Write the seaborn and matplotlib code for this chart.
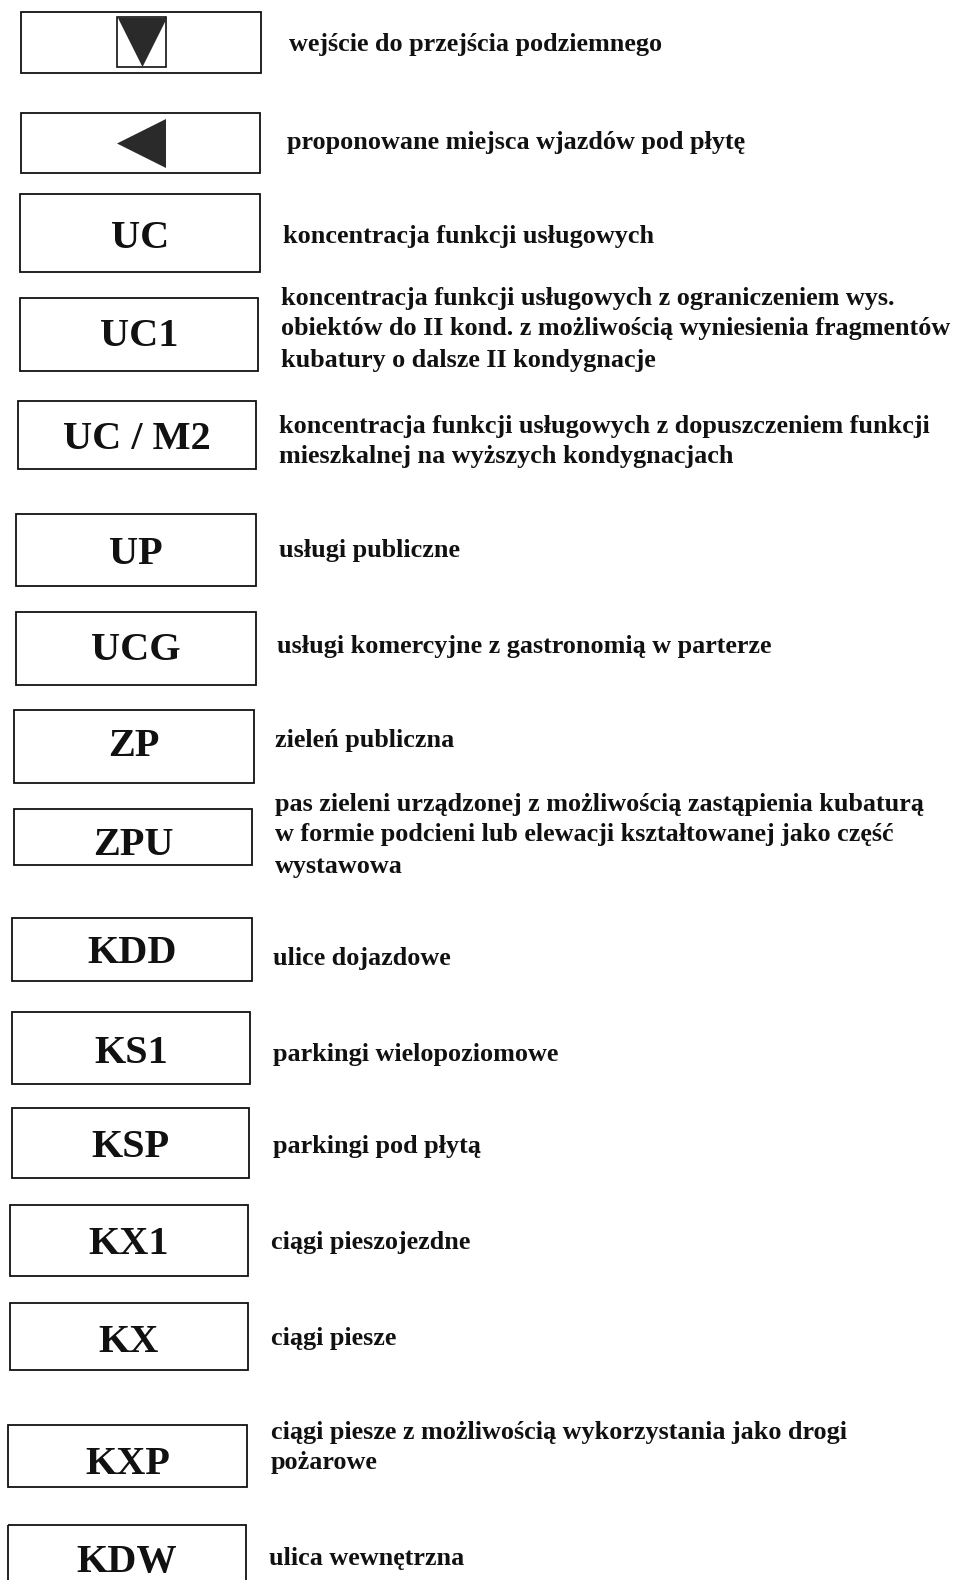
import matplotlib
matplotlib.use("Agg")
import matplotlib.pyplot as plt
import seaborn as sns
from matplotlib.patches import Rectangle

# ---- data ----
codes = ["", "", "UC", "UC1", "UC / M2", "UP", "UCG", "ZP", "ZPU", "KDD",
         "KS1", "KSP", "KX1", "KX", "KXP", "KDW"]
descriptions = [
    ["wejście do przejścia podziemnego"],
    ["proponowane miejsca wjazdów pod płytę"],
    ["koncentracja funkcji usługowych"],
    ["koncentracja funkcji usługowych z ograniczeniem wys.",
     "obiektów do II kond. z możliwością wyniesienia fragmentów",
     "kubatury o dalsze II kondygnacje"],
    ["koncentracja funkcji usługowych z dopuszczeniem funkcji",
     "mieszkalnej na wyższych kondygnacjach"],
    ["usługi publiczne"],
    ["usługi komercyjne z gastronomią w parterze"],
    ["zieleń publiczna"],
    ["pas zieleni urządzonej z możliwością zastąpienia kubaturą",
     "w formie podcieni lub elewacji kształtowanej jako część",
     "wystawowa"],
    ["ulice dojazdowe"],
    ["parkingi wielopoziomowe"],
    ["parkingi pod płytą"],
    ["ciągi pieszojezdne"],
    ["ciągi piesze"],
    ["ciągi piesze z możliwością wykorzystania jako drogi",
     "pożarowe"],
    ["ulica wewnętrzna"],
]
symbols = ["v", "<"]

# ---- layout (pixels) ----
box_left = [21, 21, 20, 20, 18, 16, 16, 14, 14, 12, 12, 12, 10, 10, 8, 8]
box_right = [261, 260, 260, 258, 256, 256, 256, 254, 252, 252, 250, 249, 248, 248, 247, 246]
box_top = [12, 113, 194, 298, 401, 514, 612, 710, 809, 918, 1012, 1108, 1205, 1303, 1425, 1525]
box_bot = [73, 173, 272, 371, 469, 586, 685, 783, 865, 981, 1084, 1178, 1276, 1370, 1487, 1600]
caps_mid = [None, None, 233, 331, 434, 549, 645, 741, 840, 948, 1048, 1142, 1239, 1337, 1459, 1557]
cap_half = 15
text_x = [289, 287, 283, 281, 279, 279, 277, 275, 275, 273, 273, 273, 271, 271, 271, 269]
text_y0 = [44, 142, 236, 298, 426, 550, 646, 740, 804, 958, 1054, 1147, 1242, 1338, 1432, 1558]
line_gap = 31

W, H = 961, 1580
sns.set_theme(style="white")
plt.rcParams['font.family'] = ['Liberation Serif', 'DejaVu Serif']

fig = plt.figure(figsize=(W / 100, H / 100), dpi=100)
ax = fig.add_axes([0, 0, 1, 1])

ink = "#111111"
for i, code in enumerate(codes):
    ax.add_patch(Rectangle((box_left[i], box_top[i]), box_right[i] - box_left[i],
                           box_bot[i] - box_top[i], fill=False, ec=ink, lw=1.3))
    if code:
        ax.text((box_left[i] + box_right[i]) / 2, caps_mid[i] + cap_half, code,
                ha="center", va="baseline", fontsize=29, fontweight="bold",
                color=ink)
    for j, line in enumerate(descriptions[i]):
        ax.text(text_x[i], text_y0[i] + j * line_gap, line, ha="left",
                va="center", fontsize=18.8, fontweight="bold", color=ink)

# symbol boxes
ax.add_patch(Rectangle((117, 17), 49, 50, fill=False, ec=ink, lw=1.2))
sns.scatterplot(x=[141.5], y=[42], marker=symbols[0], s=1245, color="#2a2a2a",
                linewidth=0, ax=ax, legend=False)
sns.scatterplot(x=[141], y=[143], marker=symbols[1], s=1245, color="#2a2a2a",
                linewidth=0, ax=ax, legend=False)
ax.set_xlim(0, W)
ax.set_ylim(H, 0)
ax.axis("off")

fig.savefig("out.png", dpi=100, facecolor="white")
